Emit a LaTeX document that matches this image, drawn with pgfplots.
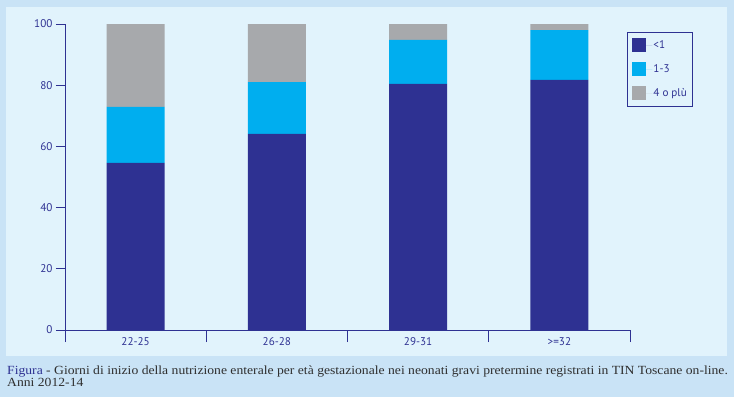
\documentclass[border=0pt]{standalone}
\usepackage{pgfplots}
\pgfplotsset{compat=1.18}
\usepackage{fontspec}
\setmainfont{Liberation Serif}
\setsansfont{PT Sans}
\definecolor{dblue}{HTML}{2E3192}
\definecolor{cyanb}{HTML}{00AEEF}
\definecolor{grayb}{HTML}{A7A9AC}
\definecolor{outerbg}{HTML}{C9E3F6}
\definecolor{innerbg}{HTML}{E1F3FC}
\definecolor{captxt}{HTML}{2F2F2F}
\begin{document}
\begin{tikzpicture}
\fill[outerbg] (0,0) rectangle (734bp,-397bp);
\fill[innerbg] (6bp,-7bp) rectangle (727bp,-356bp);
\begin{axis}[
  at={(65bp,-330bp)}, anchor=south west,
  scale only axis, width=565bp, height=306bp,
  ybar stacked, bar width=58bp,
  xmin=-0.5, xmax=3.5, ymin=0, ymax=100,
  axis x line*=bottom, axis y line*=left,
  axis line style={dblue, line width=0.9bp, -},
  xtick={-0.5,0.5,1.5,2.5,3.5},
  x tick label as interval,
  xticklabels={22-25,26-28,29-31,{>=32}},
  xticklabel style={yshift=5bp},
  ytick={0,20,40,60,80,100},
  tick align=outside,
  major tick length=9bp,
  xtick style={/pgfplots/major tick length=12bp},
  tick style={dblue, line width=0.9bp},
  ticklabel style={font=\sffamily\fontsize{11.2}{12}\selectfont, text=dblue},
  /pgf/number format/assume math mode=true,
  legend style={at={(1,1)}, anchor=north west, xshift=-3bp, yshift=-8bp,
    draw=dblue, line width=0.9bp, fill=none,
    text=dblue,
    inner xsep=5bp, inner ysep=6bp, row sep=10bp, cells={anchor=west},
    nodes={inner sep=1bp, font=\sffamily\fontsize{11.2}{12}\selectfont, text=dblue}},
  legend image code/.code={\fill[#1] (0bp,-7bp) rectangle (14bp,7bp); \path (0bp,0bp) -- (20bp,0bp);},
]
\addplot[fill=dblue, draw=none] coordinates {(0,54.6) (1,64.1) (2,80.4) (3,81.7)};
\addplot[fill=cyanb, draw=none] coordinates {(0,18.3) (1,16.9) (2,14.4) (3,16.3)};
\addplot[fill=grayb, draw=none] coordinates {(0,27.1) (1,19.0) (2,5.2) (3,2.0)};
\legend{{<1},{1-3},{4 o plù}}
\end{axis}
\node[anchor=base west, inner sep=0, text=captxt, font=\fontsize{12.5}{12.5}\selectfont] at (7bp,-374bp) {\scalebox{1.096}[1]{\textcolor{dblue}{Figura} - Giorni di inizio della nutrizione enterale per età gestazionale nei neonati gravi pretermine registrati in TIN Toscane on-line.}};
\node[anchor=base west, inner sep=0, text=captxt, font=\fontsize{12.5}{12.5}\selectfont] at (7bp,-386bp) {\scalebox{1.096}[1]{Anni 2012-14}};
\pgfresetboundingbox
\path[use as bounding box] (0,0) rectangle (734bp,-397bp);
\end{tikzpicture}
\end{document}
